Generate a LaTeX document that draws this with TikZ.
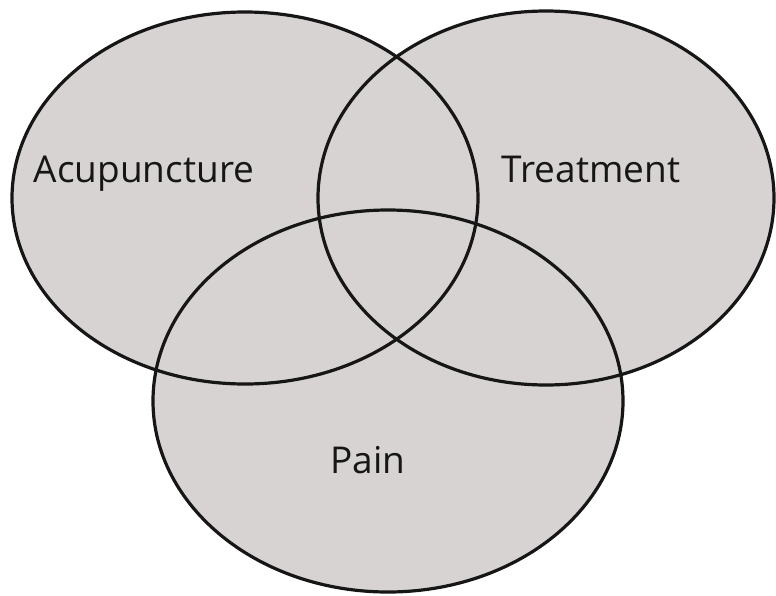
\documentclass[tikz,border=0pt]{standalone}
\usepackage{fontspec}
\setmainfont{Open Sans}
\usetikzlibrary{positioning}
\definecolor{vennGrey}{RGB}{216,211,211}
\definecolor{vennLine}{RGB}{22,22,22}
\tikzset{
  setlabel/.style={font=\fontsize{37}{40}\selectfont, text=vennLine, inner sep=0pt, anchor=base}
}
\begin{document}
\begin{tikzpicture}[x=1pt,y=-1pt]
    \useasboundingbox (0,0) rectangle (776,595);

    % Centres of the three sets
    \coordinate (acu) at (245,198);
    \coordinate (treat) at (546,198);
    \coordinate (pain) at (388,401);

    % Fills first, so every outline stays visible
    \foreach \c/\rx/\ry in {acu/233/186, treat/228/187, pain/235/191}
      \fill[vennGrey] (\c) ellipse [x radius=\rx pt, y radius=\ry pt];

    % Outlines
    \foreach \c/\rx/\ry in {acu/233/186, treat/228/187, pain/235/191}
      \draw[line width=3.2pt, vennLine] (\c) ellipse [x radius=\rx pt, y radius=\ry pt];

    % Set names
    \node[setlabel] (acuLab) at (144,182) {Acupuncture};
    \node[setlabel] (treatLab) at (591,182) {Treatment};
    \node[setlabel] (painLab) at (368,473) {Pain};
\end{tikzpicture}
\end{document}
